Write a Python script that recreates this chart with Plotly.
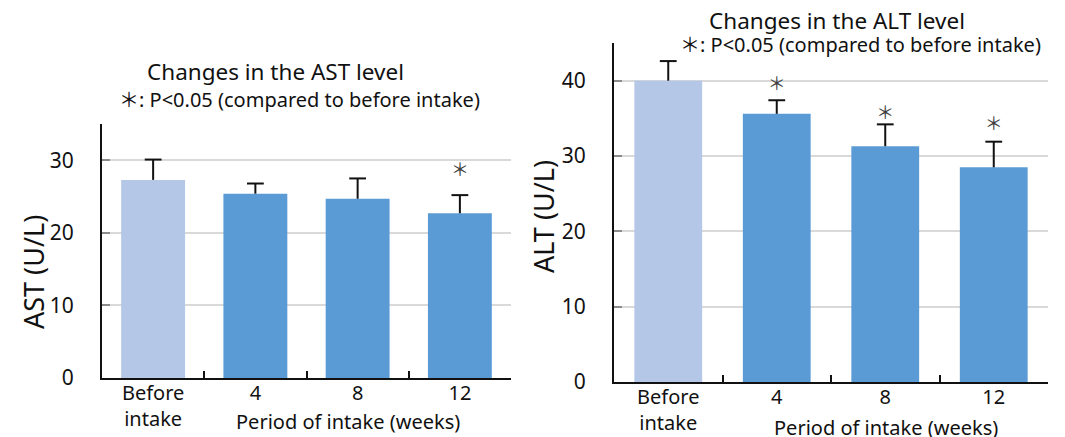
import plotly.graph_objects as go

categories = ["Before<br>intake", "4", "8", "12"]

ast_values = [27.3, 25.4, 24.7, 22.7]
ast_err = [2.8, 1.4, 2.8, 2.5]
ast_sig_y = [None, None, None, 28.5]

alt_values = [40.0, 35.6, 31.3, 28.5]
alt_err = [2.6, 1.8, 2.9, 3.4]
alt_sig_y = [None, 39.4, 35.5, 34.1]

bar_colors = ["#B4C7E7", "#5B9BD5", "#5B9BD5", "#5B9BD5"]

FONT = "Noto Sans, Noto Sans CJK JP, sans-serif"
# the page body has a default 8px margin: work in window pixels, shift by it
OX, OY = 8, 8
W, H = 1065 - OX, 437 - OY

fig = go.Figure()


def add_panel(values, err, sig_y, xa, ya):
    fig.add_trace(go.Bar(
        x=categories, y=values, xaxis=xa, yaxis=ya,
        marker=dict(color=bar_colors, line=dict(width=0)),
        error_y=dict(type="data", symmetric=False, array=err,
                     arrayminus=[0] * len(err), color="#111111",
                     thickness=2, width=0),
        showlegend=False, hoverinfo="skip",
    ))
    fig.add_trace(go.Scatter(
        x=categories, y=[v + e for v, e in zip(values, err)],
        xaxis=xa, yaxis=ya, mode="markers",
        marker=dict(symbol="line-ew", size=12,
                    line=dict(width=2, color="#111111")),
        showlegend=False, hoverinfo="skip",
    ))
    fig.add_trace(go.Scatter(
        x=categories, y=sig_y, xaxis=xa, yaxis=ya, mode="text",
        text=["＊" if s is not None else "" for s in sig_y],
        textfont=dict(size=18, color="#404040",
                      family="Noto Sans CJK JP, sans-serif"),
        textposition="middle center",
        showlegend=False, hoverinfo="skip",
    ))


add_panel(ast_values, ast_err, ast_sig_y, "x", "y")
add_panel(alt_values, alt_err, alt_sig_y, "x2", "y2")


def px_x(p):
    return (p - OX) / W


def px_y(p):
    return 1 - (p - OY) / H


xcommon = dict(
    type="category", showline=True, linecolor="#111111", linewidth=2,
    ticks="inside", tickson="boundaries", ticklen=7, tickwidth=2,
    tickcolor="#111111", showgrid=False, zeroline=False,
    tickfont=dict(family=FONT, size=20, color="#111111"),
    ticklabelstandoff=-4, fixedrange=True, automargin=False,
)
ycommon = dict(
    showline=True, linecolor="#111111", linewidth=2,
    ticks="inside", ticklen=8, tickwidth=2, tickcolor="#8C8C8C",
    showgrid=True, gridcolor="#D9D9D9", gridwidth=2, zeroline=False,
    tickfont=dict(family=FONT, size=21, color="#111111"),
    ticklabelstandoff=22, dtick=10, fixedrange=True, automargin=False,
)

fig.update_layout(
    width=W, height=H,
    margin=dict(l=0, r=0, t=0, b=0),
    paper_bgcolor="white", plot_bgcolor="white",
    bargap=0.375,
    font=dict(family=FONT, color="#111111"),
    xaxis=dict(xcommon, domain=[px_x(102), px_x(511)], anchor="y"),
    yaxis=dict(ycommon, domain=[px_y(378), px_y(124)], range=[0, 35],
               anchor="x"),
    xaxis2=dict(xcommon, domain=[px_x(614), px_x(1048)], anchor="y2"),
    yaxis2=dict(ycommon, domain=[px_y(382), px_y(43)], range=[0, 45],
                anchor="x2"),
)

annotations = [
    dict(text="Changes in the AST level", x=275, y=71, size=22.5),
    dict(text="＊: P<0.05 (compared to before intake)", x=299, y=99,
         size=20),
    dict(text="Period of intake (weeks)", x=348, y=421, size=20),
    dict(text="AST (U/L)", x=33, y=272, size=27, angle=-90),
    dict(text="Changes in the ALT level", x=837, y=20, size=22.5),
    dict(text="＊: P<0.05 (compared to before intake)", x=860, y=44,
         size=20),
    dict(text="Period of intake (weeks)", x=886, y=427, size=20),
    dict(text="ALT (U/L)", x=543, y=217, size=27, angle=-90),
]
for a in annotations:
    fig.add_annotation(
        text=a["text"], x=px_x(a["x"]), y=px_y(a["y"]),
        xref="paper", yref="paper",
        xanchor="center", yanchor="middle", showarrow=False,
        textangle=a.get("angle", 0),
        font=dict(family=FONT, size=a["size"], color="#111111"),
    )

fig.write_html("out.html")
